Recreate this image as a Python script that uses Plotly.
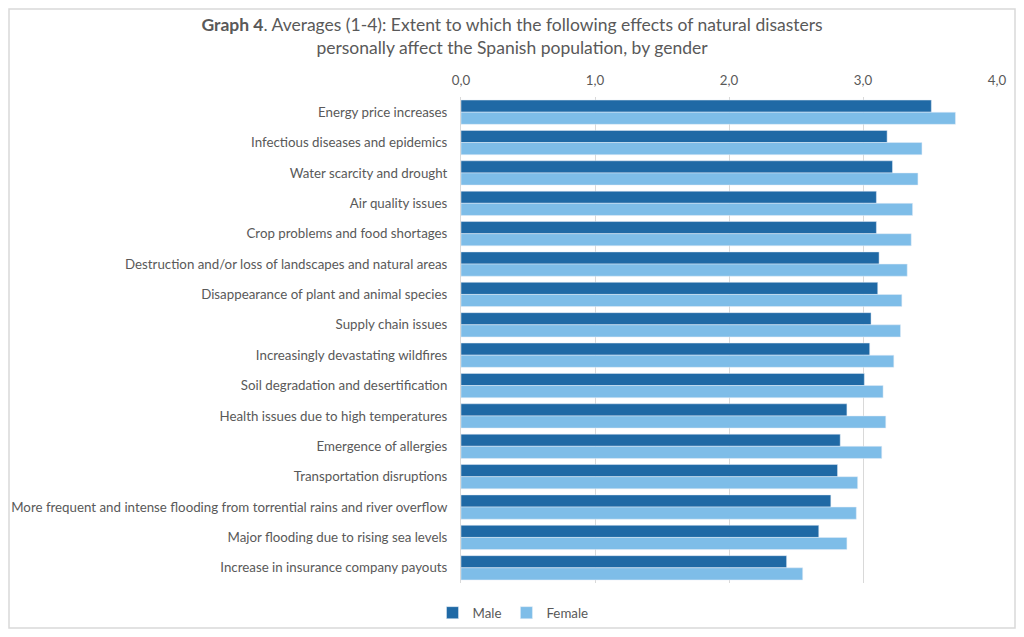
import plotly.graph_objects as go

categories = [
    "Energy price increases",
    "Infectious diseases and epidemics",
    "Water scarcity and drought",
    "Air quality issues",
    "Crop problems and food shortages",
    "Destruction and/or loss of landscapes and natural areas",
    "Disappearance of plant and animal species",
    "Supply chain issues",
    "Increasingly devastating wildfires",
    "Soil degradation and desertification",
    "Health issues due to high temperatures",
    "Emergence of allergies",
    "Transportation disruptions",
    "More frequent and intense flooding from torrential rains and river overflow",
    "Major flooding due to rising sea levels",
    "Increase in insurance company payouts",
]
male = [3.51, 3.18, 3.22, 3.10, 3.10, 3.12, 3.11, 3.06,
        3.05, 3.01, 2.88, 2.83, 2.81, 2.76, 2.67, 2.43]
female = [3.69, 3.44, 3.41, 3.37, 3.36, 3.33, 3.29, 3.28,
          3.23, 3.15, 3.17, 3.14, 2.96, 2.95, 2.88, 2.55]
x_ticks = [0, 1, 2, 3, 4]

font_name = "Lato"
grey = "#595959"

# page has an 8px body margin, so the figure is drawn 16px smaller
W, H = 1008, 621
L, R, T, B = 453, 19, 89, 46
pw, ph = W - L - R, H - T - B

fig = go.Figure()
fig.add_trace(go.Bar(y=categories, x=male, name="Male", orientation="h",
                     marker_color="#1F69A5"))
fig.add_trace(go.Bar(y=categories, x=female, name="Female", orientation="h",
                     marker_color="#7EBDE8"))

fig.update_layout(
    width=W, height=H,
    margin=dict(l=L, r=R, t=T, b=B, autoexpand=False),
    paper_bgcolor="white", plot_bgcolor="white",
    barmode="group", bargap=0.2, bargroupgap=0,
    separators=",.",
    font=dict(family=font_name, size=13.3, color=grey),
    title=dict(
        text="<b>Graph 4</b>. Averages (1-4): Extent to which the following effects of natural disasters"
             "<br>personally affect the Spanish population, by gender",
        x=0.5, xanchor="center", xref="container",
        y=1 - 23 / H, yanchor="middle", yref="container",
        font=dict(family=font_name, size=17.5, color=grey),
    ),
    legend=dict(orientation="h", x=(505 - L) / pw, xanchor="center",
                y=(H - B - 605) / ph, yanchor="middle",
                bgcolor="rgba(0,0,0,0)",
                font=dict(size=13.3, color=grey), itemwidth=30),
    showlegend=True,
)
fig.update_xaxes(range=[0, 4], tickvals=x_ticks, tickformat=".1f", side="top",
                 showgrid=True, gridcolor="#D9D9D9", zeroline=False,
                 showline=False, ticks="", ticklabelstandoff=8, automargin=False,
                 tickfont=dict(size=13.3, color=grey))
fig.update_yaxes(autorange="reversed", showline=True, linecolor="#D9D9D9",
                 ticks="", ticklabelstandoff=10, automargin=False,
                 tickfont=dict(size=13.3, color=grey))

# light frame round the whole chart
fig.add_shape(type="rect", xref="paper", yref="paper",
              x0=(1 - L) / pw, x1=(W - 1 - L) / pw,
              y0=(H - B - (H - 1)) / ph, y1=(H - B - 1) / ph,
              line=dict(color="#D9D9D9", width=1.5))

fig.write_html("out.html")
